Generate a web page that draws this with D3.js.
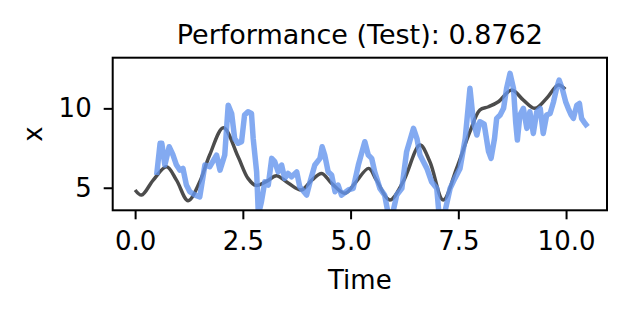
<!DOCTYPE html>
<html>
<head>
<meta charset="utf-8">
<script src="https://cdnjs.cloudflare.com/ajax/libs/d3/7.8.5/d3.min.js"></script>
<style>
  body { margin: 0; background: #fff; }
  text { font-family: "DejaVu Sans", sans-serif; fill: #000; }
</style>
</head>
<body>
<div id="canvas"></div>
<script>
// smooth reference curve (black)
const refTime = [0, 0.15, 0.42, 0.73, 0.96, 1.23, 1.50, 1.73, 2.05, 2.39, 2.62, 2.80, 3.05, 3.28,
  3.56, 3.86, 4.10, 4.33, 4.56, 4.87, 5.10, 5.42, 5.60, 5.91, 6.22, 6.61, 6.84, 7.15, 7.46,
  7.77, 8.00, 8.20, 8.43, 8.74, 9.01, 9.28, 9.55, 9.82, 9.98];
const refValue = [4.86, 4.54, 5.48, 6.32, 5.48, 4.18, 5.38, 7.06, 8.78, 6.95, 5.59, 5.15, 5.40, 5.76,
  5.28, 4.86, 5.48, 5.90, 5.28, 4.65, 5.28, 6.22, 5.48, 4.23, 5.38, 7.69, 6.64, 4.23, 6.22,
  8.53, 9.90, 10.10, 10.42, 11.15, 10.52, 10.00, 10.63, 11.47, 11.20];

// noisy prediction (blue)
const predTime = [0.50, 0.58, 0.62, 0.69, 0.79, 0.88, 0.96, 1.04, 1.11, 1.19, 1.27, 1.39, 1.50,
  1.62, 1.73, 1.89, 1.97, 2.08, 2.16, 2.24, 2.31, 2.39, 2.47, 2.54, 2.62, 2.70, 2.74, 2.82,
  2.86, 2.93, 3.01, 3.09, 3.17, 3.24, 3.32, 3.40, 3.47, 3.55, 3.63, 3.75, 3.82, 3.98, 4.06,
  4.17, 4.29, 4.34, 4.40, 4.48, 4.56, 4.64, 4.71, 4.79, 4.95, 5.06, 5.18, 5.33, 5.41, 5.49,
  5.56, 5.68, 5.79, 5.87, 5.97, 6.07, 6.19, 6.30, 6.46, 6.54, 6.61, 6.69, 6.77, 6.88, 7.00,
  7.05, 7.19, 7.31, 7.42, 7.54, 7.66, 7.77, 7.85, 7.93, 8.00, 8.10, 8.20, 8.26, 8.34, 8.39,
  8.47, 8.55, 8.62, 8.70, 8.78, 8.83, 8.87, 8.93, 9.01, 9.09, 9.16, 9.24, 9.32, 9.40, 9.47,
  9.55, 9.63, 9.71, 9.78, 9.84, 9.91, 9.99, 10.05, 10.12, 10.17, 10.25, 10.31, 10.36, 10.44, 10.50];
const predValue = [5.80, 7.80, 7.80, 6.43, 7.58, 7.06, 6.43, 6.11, 6.22, 5.17, 4.75, 4.54, 4.43,
  6.43, 6.32, 7.06, 6.11, 7.06, 10.20, 9.68, 8.10, 7.80, 7.90, 9.58, 9.79, 9.68, 8.10, 6.00,
  3.30, 4.10, 5.38, 5.17, 6.85, 6.64, 6.00, 6.43, 5.59, 5.90, 5.69, 6.00, 5.06, 4.54, 5.38,
  6.43, 6.85, 7.58, 7.06, 6.00, 5.80, 4.75, 5.17, 4.54, 4.86, 4.96, 6.43, 7.90, 7.06, 6.85,
  6.00, 4.96, 4.54, 3.40, 3.30, 4.54, 4.96, 7.27, 8.74, 8.10, 7.06, 6.64, 6.22, 5.38, 4.96,
  3.40, 3.50, 4.96, 5.59, 6.22, 8.10, 11.26, 9.16, 8.32, 9.16, 9.00, 7.30, 6.85, 8.10, 9.37,
  9.58, 10.00, 11.26, 12.20, 11.26, 9.16, 8.00, 9.58, 10.00, 8.74, 9.79, 8.42, 9.79, 10.00, 8.42,
  9.58, 9.68, 10.42, 11.26, 11.78, 11.26, 10.42, 10.00, 9.58, 9.37, 10.20, 10.31, 9.37, 9.05, 8.84];

const xTicks = [0, 2.5, 5, 7.5, 10];
const yTicks = [5, 10];

const w = 628;
const h = 315;
const plot = { left: 112.7, right: 607, top: 57.7, bottom: 210.3 };

const svg = d3.select("#canvas")
  .append("svg")
  .attr("width", w)
  .attr("height", h);

const x = d3.scaleLinear().domain([-0.52, 10.95]).range([plot.left, plot.right]);
const y = d3.scaleLinear().domain([3.58, 13.19]).range([plot.bottom, plot.top]);

svg.append("clipPath")
  .attr("id", "clip")
  .append("rect")
  .attr("x", plot.left)
  .attr("y", plot.top)
  .attr("width", plot.right - plot.left)
  .attr("height", plot.bottom - plot.top);

const refData = refTime.map((t, i) => [t, refValue[i]]);
const predData = predTime.map((t, i) => [t, predValue[i]]);

const lines = svg.append("g").attr("clip-path", "url(#clip)");

// black curve first, blue drawn over it
lines.append("path")
  .datum(refData)
  .attr("fill", "none")
  .attr("stroke", "#000")
  .attr("stroke-opacity", 0.7)
  .attr("stroke-width", 3.5)
  .attr("d", d3.line().x(d => x(d[0])).y(d => y(d[1])).curve(d3.curveCatmullRom));

lines.append("path")
  .datum(predData)
  .attr("fill", "none")
  .attr("stroke", "#6495ED")
  .attr("stroke-opacity", 0.8)
  .attr("stroke-width", 5.5)
  .attr("stroke-linejoin", "round")
  .attr("d", d3.line().x(d => x(d[0])).y(d => y(d[1])));

// axes
const xAxis = d3.axisBottom(x).tickValues(xTicks).tickFormat(d3.format(".1f")).tickSize(9).tickPadding(12);
const yAxis = d3.axisLeft(y).tickValues(yTicks).tickFormat(d3.format("d")).tickSize(9).tickPadding(12);

const gx = svg.append("g")
  .attr("transform", "translate(0," + plot.bottom + ")")
  .call(xAxis);
const gy = svg.append("g")
  .attr("transform", "translate(" + plot.left + ",0)")
  .call(yAxis);

[gx, gy].forEach(g => {
  g.select(".domain").remove();
  g.selectAll(".tick line").attr("stroke", "#000").attr("stroke-width", 2);
  g.selectAll(".tick text").style("font-size", "26px").attr("fill", "#000");
});

// frame
svg.append("rect")
  .attr("x", plot.left)
  .attr("y", plot.top)
  .attr("width", plot.right - plot.left)
  .attr("height", plot.bottom - plot.top)
  .attr("fill", "none")
  .attr("stroke", "#000")
  .attr("stroke-width", 2);

// labels
svg.append("text")
  .attr("x", (plot.left + plot.right) / 2)
  .attr("y", 44)
  .attr("text-anchor", "middle")
  .style("font-size", "27px")
  .text("Performance (Test): 0.8762");

svg.append("text")
  .attr("x", (plot.left + plot.right) / 2)
  .attr("y", 289)
  .attr("text-anchor", "middle")
  .style("font-size", "26px")
  .text("Time");

svg.append("text")
  .attr("transform", "translate(42," + (plot.top + plot.bottom) / 2 + ") rotate(-90)")
  .attr("text-anchor", "middle")
  .style("font-size", "26px")
  .text("x");
</script>
</body>
</html>
